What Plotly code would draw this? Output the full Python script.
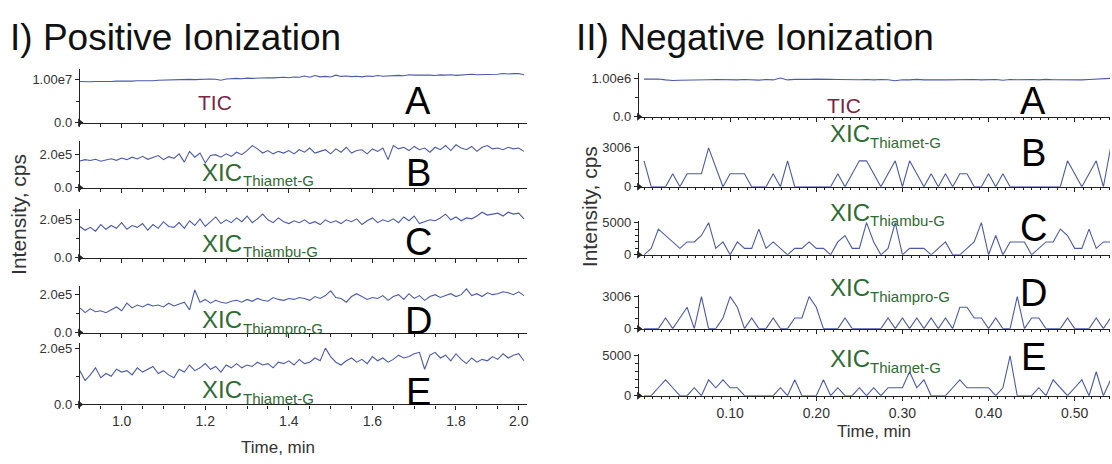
import plotly.graph_objects as go

W, H = 1112, 464

# ---------------- data ----------------
# Positive ionization: time grid (min)
pos_t0 = 0.9
pos_dt = 0.0125
# TIC in units of 1e6 cps
pos_tic_e6 = [
    9.60, 9.50, 9.55, 9.60, 9.55, 9.65, 9.60, 9.70, 9.65, 9.75,
    9.70, 9.80, 9.75, 9.85, 9.80, 9.90, 9.95, 9.85, 10.0, 10.05,
    10.0, 10.1, 10.05, 10.15, 10.1, 10.2, 10.15, 9.90, 10.2, 10.3,
    10.35, 10.25, 10.4, 10.35, 10.45, 10.4, 10.5, 10.45, 10.55, 10.6,
    10.5, 10.65, 10.6, 10.9, 10.6, 11.0, 10.7, 10.8, 10.65, 11.1,
    10.8, 10.9, 10.75, 10.85, 10.7, 10.9, 10.8, 11.0, 10.85, 10.95,
    10.9, 11.05, 10.95, 11.2, 11.1, 11.15, 11.05, 11.1, 11.0, 11.15,
    11.1, 11.2, 11.05, 11.15, 11.1, 11.3, 11.2, 11.25, 11.15, 11.35,
    11.3, 11.5, 11.35, 11.45, 11.5, 11.2]
# XICs in units of 1e5 cps
pos_thiamet_b_e5 = [
    1.62, 1.70, 1.65, 1.72, 1.60, 1.68, 1.75, 1.66, 1.80, 1.70,
    1.85, 1.74, 1.90, 1.72, 1.82, 1.95, 1.70, 1.88, 1.78, 2.05,
    1.55, 2.20, 1.85, 2.10, 1.50, 1.95, 2.00, 1.85, 2.05, 1.90,
    2.15, 2.00, 2.25, 2.55, 2.35, 2.10, 2.25, 2.05, 2.20, 2.10,
    2.25, 2.05, 2.30, 2.15, 2.40, 2.10, 2.20, 2.30, 2.05, 2.35,
    2.15, 2.45, 2.10, 2.25, 2.30, 2.05, 2.35, 2.20, 2.40, 1.70,
    2.55, 2.35, 2.45, 2.25, 2.50, 2.30, 2.40, 2.15, 2.45, 2.30,
    2.55, 2.25, 2.60, 2.40, 2.30, 2.50, 2.20, 2.45, 2.55, 2.35,
    2.40, 2.30, 2.45, 2.35, 2.40, 2.20]
pos_thiambu_e5 = [
    1.65, 1.45, 1.60, 1.40, 1.75, 1.50, 1.70, 1.55, 1.85, 1.50,
    1.70, 1.60, 1.80, 1.45, 1.75, 1.55, 1.90, 1.65, 1.60, 1.85,
    1.55, 1.95, 1.70, 2.05, 1.65, 1.90, 2.15, 1.80, 2.00, 1.85,
    2.10, 1.90, 2.20, 1.85, 2.05, 2.30, 2.00, 1.85, 2.10, 1.90,
    1.80, 1.95, 1.85, 2.00, 1.80, 1.90, 1.75, 2.00, 1.85, 1.95,
    1.80, 2.00, 1.90, 2.05, 1.75, 1.95, 2.10, 1.85, 2.00, 1.90,
    2.05, 1.85, 2.15, 1.95, 2.20, 1.80, 1.90, 2.00, 1.95, 2.10,
    2.30, 2.00, 2.15, 1.95, 2.10, 2.05, 2.20, 2.40, 2.25, 2.30,
    2.35, 2.20, 2.40, 2.30, 2.35, 2.05]
pos_thiampro_e5 = [
    1.30, 1.05, 1.25, 1.10, 1.15, 1.05, 1.20, 1.35, 1.15, 1.55,
    1.30, 1.45, 1.35, 1.50, 1.40, 1.45, 1.35, 1.55, 1.40, 1.50,
    1.60, 1.20, 2.25, 1.60, 1.75, 1.55, 1.70, 1.60, 1.55, 1.65,
    1.70, 1.60, 1.75, 1.65, 1.80, 1.70, 1.65, 1.85, 1.75, 1.70,
    1.80, 1.75, 1.85, 1.80, 1.70, 1.90, 1.80, 1.95, 2.20, 1.85,
    1.80, 1.60, 1.90, 2.05, 1.90, 1.75, 1.85, 1.80, 1.95, 1.70,
    1.90, 2.00, 1.75, 2.05, 1.80, 1.95, 1.70, 1.90, 2.00, 1.85,
    1.95, 2.05, 1.90, 2.00, 2.30, 1.95, 2.05, 1.90, 2.10, 2.00,
    2.05, 2.15, 2.10, 2.00, 2.15, 1.95]
pos_thiamet_e_e5 = [
    1.20, 0.85, 1.05, 1.30, 0.95, 1.10, 1.00, 1.25, 1.15, 1.20,
    1.05, 1.30, 1.15, 1.25, 1.35, 1.10, 1.20, 1.05, 0.95, 1.25,
    1.15, 1.40, 1.20, 1.30, 1.45, 1.25, 1.35, 1.15, 1.40, 1.30,
    1.45, 1.30, 1.40, 1.35, 1.50, 1.40, 1.45, 1.30, 1.50, 1.45,
    1.55, 1.40, 1.60, 1.45, 1.50, 1.65, 1.55, 2.00, 1.70, 1.50,
    1.40, 1.55, 1.65, 1.50, 1.60, 1.45, 1.70, 1.55, 1.65, 1.50,
    1.60, 1.75, 1.65, 1.70, 1.80, 1.85, 1.25, 1.75, 1.85, 1.65,
    1.75, 1.55, 1.80, 1.60, 1.45, 1.65, 1.50, 1.60, 1.55, 1.70,
    1.60, 1.80, 1.65, 1.75, 1.80, 1.55]

# Negative ionization: time grid (min), one scan every 0.5 s
neg_t0 = 0.0
neg_dt = 1.0 / 120.0
neg_tic_e5 = [
    9.8, 9.9, 9.85, 9.6, 9.45, 9.5, 9.5, 9.55, 9.6, 9.65,
    9.7, 9.65, 9.7, 9.6, 9.7, 9.65, 9.55, 9.7, 9.6, 10.1,
    9.6, 9.75, 9.7, 9.75, 9.8, 9.7, 9.75, 9.7, 9.65, 9.7,
    9.65, 9.7, 9.6, 9.7, 9.65, 9.4, 9.65, 9.6, 9.75, 9.6,
    9.7, 9.65, 9.6, 9.65, 9.6, 9.65, 9.7, 9.6, 9.65, 9.7,
    9.5, 9.7, 9.65, 9.75, 9.7, 9.6, 9.75, 9.65, 9.6, 9.7,
    9.65, 9.6, 9.7, 9.8, 9.9, 10.0]
neg_thiamet_b = [
    2004, 0, 0, 0, 1002, 0, 1002, 1002, 1002, 3006,
    1503, 0, 1002, 1002, 1002, 0, 0, 0, 1002, 0,
    2004, 0, 0, 0, 0, 0, 0, 1002, 0, 1002,
    2004, 2004, 1002, 0, 1002, 2004, 0, 2004, 1002, 0,
    1002, 0, 1002, 0, 1002, 1002, 0, 0, 1002, 0,
    1002, 0, 0, 0, 0, 0, 0, 0, 0, 2004,
    1002, 0, 1002, 2004, 0, 3006]
neg_thiambu = [
    0, 1002, 4008, 3006, 2004, 1002, 2004, 2004, 3006, 5010,
    1002, 2004, 0, 2004, 1002, 1002, 4008, 1002, 2004, 1002,
    0, 1002, 1002, 2004, 1002, 1002, 0, 2004, 3006, 1002,
    1002, 5010, 2004, 0, 1002, 5010, 0, 1002, 1002, 1002,
    0, 1002, 2004, 0, 0, 1002, 2004, 5010, 0, 3006,
    0, 2004, 2004, 2004, 0, 1002, 2004, 2004, 4008, 3006,
    1002, 1002, 4008, 1002, 2004, 2004]
neg_thiampro = [
    0, 0, 0, 1002, 0, 1002, 2004, 0, 3006, 0,
    0, 1002, 3006, 2004, 0, 1002, 0, 0, 1002, 0,
    0, 1002, 1002, 3006, 2004, 0, 0, 0, 1002, 0,
    0, 0, 0, 0, 1002, 0, 1002, 0, 1002, 0,
    1002, 0, 1002, 0, 2004, 2004, 1002, 1002, 0, 1002,
    0, 0, 3006, 0, 1002, 1002, 0, 0, 0, 1002,
    0, 0, 0, 1002, 0, 1002]
neg_thiamet_e = [
    0, 0, 1002, 2004, 1002, 0, 0, 1002, 0, 2004,
    1002, 2004, 1002, 1002, 0, 0, 0, 0, 0, 1002,
    0, 2004, 0, 0, 0, 2004, 0, 1002, 0, 0,
    1002, 0, 1002, 0, 1002, 1002, 1002, 3006, 1002, 2004,
    0, 0, 0, 1002, 2004, 1002, 1002, 1002, 1002, 0,
    1002, 5010, 0, 0, 0, 1002, 0, 2004, 1002, 0,
    1002, 2004, 0, 3006, 0, 2004]

# tick labels
pos_x_tickvals = [1.0, 1.2, 1.4, 1.6, 1.8, 1.95]
pos_x_ticktext = ["1.0", "1.2", "1.4", "1.6", "1.8", "2.0"]
neg_x_tickvals = [0.10, 0.20, 0.30, 0.40, 0.50]
neg_x_ticktext = ["0.10", "0.20", "0.30", "0.40", "0.50"]

pos_y_ticktext = [["0.0", "1.00e7"], ["0.0", "2.0e5"], ["0.0", "2.0e5"], ["0.0", "2.0e5"], ["0.0", "2.0e5"]]
neg_y_ticktext = [["0.0", "1.00e6"], ["0", "3006"], ["0", "5000"], ["0", "3006"], ["0", "5000"]]

# trace labels
xic_names = ["Thiamet-G", "Thiambu-G", "Thiampro-G", "Thiamet-G"]
panel_letters = ["A", "B", "C", "D", "E"]

# ---------------- build series ----------------
pos_x = [pos_t0 + pos_dt * k for k in range(len(pos_tic_e6))]
neg_x = [neg_t0 + neg_dt * k for k in range(len(neg_tic_e5))]
pos_series = [
    [v * 1e6 for v in pos_tic_e6],
    [v * 1e5 for v in pos_thiamet_b_e5],
    [v * 1e5 for v in pos_thiambu_e5],
    [v * 1e5 for v in pos_thiampro_e5],
    [v * 1e5 for v in pos_thiamet_e_e5],
]
neg_series = [
    [v * 1e5 for v in neg_tic_e5],
    neg_thiamet_b, neg_thiambu, neg_thiampro, neg_thiamet_e,
]
pos_y_tick = [1e7, 2e5, 2e5, 2e5, 2e5]
neg_y_tick = [1e6, 3006, 5000, 3006, 5000]
pos_minor = [5e6, 1e5, 1e5, 1e5, 1e5]
neg_minor = [5e5, 1000, 1000, 1000, 1000]

# ---------------- layout (pixel geometry) ----------------
LINE = "#4d5aa8"
FONT = "Liberation Sans, Arial, sans-serif"
TICKC = "#333333"
GREEN = "#2f6b34"
TICC = "#7a2446"

# (zero_px, tick_px, top_px)
pos_geom = [(121, 77, 66), (188, 154, 140), (260, 221, 210), (337, 298, 289), (411, 353, 348)]
neg_geom = [(115, 75.5, 70), (187, 147, 145), (257, 224, 222), (333, 300, 298), (402, 361, 359)]
pos_xdom_px = (80, 528)
neg_xdom_px = (640, 1112)
pos_xrange = [0.9, 1.97]
neg_xrange = [-0.006, 0.541]


def ydom(zero_px, top_px):
    return [1 - zero_px / H, 1 - top_px / H]


fig = go.Figure()
layout = dict(
    width=W, height=H, margin=dict(l=0, r=0, t=0, b=0),
    paper_bgcolor="white", plot_bgcolor="white", showlegend=False,
    font=dict(family=FONT, color=TICKC, size=13),
)

panels = [("pos", i) for i in range(5)] + [("neg", i) for i in range(5)]

for n, (side, i) in enumerate(panels, start=1):
    xs = pos_x if side == "pos" else neg_x
    ys = (pos_series if side == "pos" else neg_series)[i]
    zero_px, tick_px, top_px = (pos_geom if side == "pos" else neg_geom)[i]
    tickv = (pos_y_tick if side == "pos" else neg_y_tick)[i]
    ymax = (zero_px - top_px) / (zero_px - tick_px) * tickv
    xdom = pos_xdom_px if side == "pos" else neg_xdom_px
    xr = pos_xrange if side == "pos" else neg_xrange
    xname = "x" if n == 1 else f"x{n}"
    yname = "y" if n == 1 else f"y{n}"
    xkey = "xaxis" if n == 1 else f"xaxis{n}"
    ykey = "yaxis" if n == 1 else f"yaxis{n}"
    bottom = (i == 4)

    fig.add_trace(go.Scatter(x=xs, y=ys, mode="lines", xaxis=xname, yaxis=yname,
                             line=dict(color=LINE, width=1.1), hoverinfo="skip"))
    # baseline marker on the y axis
    fig.add_trace(go.Scatter(x=[xr[0]], y=[0], mode="markers", xaxis=xname, yaxis=yname,
                             marker=dict(symbol="triangle-right", size=7, color="#222"),
                             cliponaxis=False, hoverinfo="skip"))

    if side == "pos":
        xax = dict(tickvals=pos_x_tickvals, ticktext=pos_x_ticktext,
                   minor=dict(tick0=0.9, dtick=0.05, ticklen=3, ticks="outside", tickcolor="#222"))
    else:
        xax = dict(tickvals=neg_x_tickvals, ticktext=neg_x_ticktext,
                   minor=dict(tick0=0.0, dtick=0.01, ticklen=2, ticks="outside", tickcolor="#222"))
    xax.update(domain=[xdom[0] / W, xdom[1] / W], range=xr, anchor=yname,
               showline=True, linecolor="#222", linewidth=1.2, ticks="outside",
               ticklen=4, tickcolor="#222", showgrid=False, zeroline=False,
               showticklabels=bottom, tickfont=dict(size=14, color=TICKC, family=FONT))
    layout[xkey] = xax

    minor_dt = (pos_minor if side == "pos" else neg_minor)[i]
    yax = dict(domain=ydom(zero_px, top_px), range=[0, ymax], anchor=xname,
               showline=True, linecolor="#222", linewidth=1.2, ticks="outside",
               ticklen=4, tickcolor="#222", showgrid=False, zeroline=False,
               tickvals=[0, tickv],
               ticktext=(pos_y_ticktext if side == "pos" else neg_y_ticktext)[i],
               tickfont=dict(size=13, color=TICKC, family=FONT),
               minor=dict(dtick=minor_dt, tick0=0, ticklen=3, ticks="outside", tickcolor="#222"))
    layout[ykey] = yax

fig.update_layout(**layout)


def ann(text, xpx, ypx, size, color, xanchor="center", yanchor="middle", angle=0):
    fig.add_annotation(text=text, x=xpx / W, y=1 - ypx / H, xref="paper", yref="paper",
                       showarrow=False, xanchor=xanchor, yanchor=yanchor, textangle=angle,
                       font=dict(size=size, color=color, family=FONT))


# titles
ann("I) Positive Ionization", 8, 33, 37, "#111", xanchor="left")
ann("II) Negative Ionization", 575, 33, 37, "#111", xanchor="left")
# axis titles
ann("Intensity, cps", 19, 215, 21, TICKC, angle=-90)
ann("Intensity, cps", 590, 207, 21, TICKC, angle=-90)
ann("Time, min", 278, 455, 17, TICKC)
ann("Time, min", 876, 439, 17, TICKC)

# trace labels
ann("TIC", 215, 100, 21, TICC)
ann("TIC", 846, 103, 21, TICC)


def xic_label(name, xpx, ypx):
    ann("XIC", xpx, ypx, 24, GREEN, xanchor="left")
    ann(name, xpx + 41, ypx + 9, 15, GREEN, xanchor="left")


pos_xic_y = [172, 245, 324, 396]
neg_xic_y = [132, 213, 291, 364]
for name, ypx in zip(xic_names, pos_xic_y):
    xic_label(name, 200, ypx)
for name, ypx in zip(xic_names, neg_xic_y):
    xic_label(name, 829, ypx)

pos_letter_y = [99, 173, 244, 325, 398]
neg_letter_y = [99, 152, 229, 296, 362]
for L, yl in zip(panel_letters, pos_letter_y):
    ann(L, 419, yl, 38, "#000")
for L, yl in zip(panel_letters, neg_letter_y):
    ann(L, 1035, yl, 38, "#000")

fig.write_html("out.html")
